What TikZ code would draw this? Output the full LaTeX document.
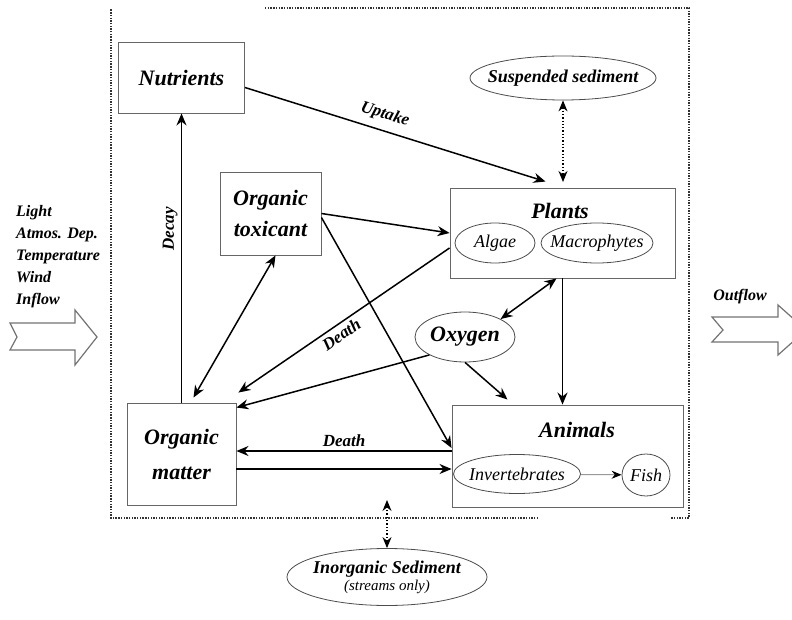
\documentclass[tikz,border=0pt]{standalone}
\usepackage{fontspec}
\setmainfont{Liberation Serif}
\usetikzlibrary{arrows.meta,shapes.geometric}
\begin{document}
\begin{tikzpicture}[x=1pt,y=-1pt,
  box/.style={draw=black!60, line width=0.9pt, rectangle, inner sep=0pt},
  oval/.style={draw=black!70, line width=0.8pt, ellipse, inner sep=0pt},
  big/.style={font=\fontsize{22}{31}\selectfont\bfseries\itshape},
  lab/.style={font=\fontsize{17}{20}\selectfont\bfseries\itshape},
  sub/.style={font=\fontsize{18}{20}\selectfont\itshape},
  arr/.style={line width=1.5pt, -{Stealth[length=12pt,width=10pt]}},
  rarr/.style={line width=1.5pt, {Stealth[length=12pt,width=10pt]}-},
  darr/.style={line width=1.5pt, {Stealth[length=12pt,width=10pt]}-{Stealth[length=12pt,width=10pt]}},
  dotarr/.style={line width=1.3pt, dotted, {Stealth[length=11pt,width=9pt]}-{Stealth[length=11pt,width=9pt]}},
  bound/.style={line width=1.8pt, dash pattern=on 1.4pt off 1.3pt, black!80},
  flow/.style={draw=black!55, line width=1.2pt, fill=white, line join=miter},
]
\useasboundingbox (0,0) rectangle (792,620);

% boundary
\draw[bound] (265,8) -- (689,8) -- (689,518) -- (671,518);
\draw[bound] (538,518) -- (111,518) -- (111,9);

% boxes
\node[box, big, minimum width=126pt, minimum height=71pt] (nut) at (181.5,77.5) {Nutrients};
\node[box, big, align=center, minimum width=101pt, minimum height=83pt] (tox) at (270.5,213.5) {Organic\\toxicant};
\node[box, big, align=center, minimum width=109pt, minimum height=102pt, font=\fontsize{22}{35}\selectfont\bfseries\itshape] (om) at (181.5,454) {Organic\\matter};
\node[box, minimum width=225pt, minimum height=90pt] (plants) at (562.5,233) {};
\node[big] (plantslbl) at (560,211) {Plants};
\node[oval, sub, minimum width=80pt, minimum height=40pt] (algae) at (495,243) {Algae};
\node[oval, sub, inner xsep=-10pt, minimum width=112pt, minimum height=40pt] (macro) at (597,243) {Macrophytes};
\node[box, minimum width=231pt, minimum height=102pt] (animals) at (567.5,456) {};
\node[big] (animalslbl) at (577,430) {Animals};
\node[oval, sub, inner xsep=-9pt, minimum width=127pt, minimum height=39pt] (inv) at (517,474) {Invertebrates};
\node[oval, sub, minimum width=48pt, minimum height=42pt] (fish) at (646,475) {Fish};
\node[oval, big, inner xsep=-5pt, minimum width=100pt, minimum height=50pt] (oxy) at (465,337) {Oxygen};
\node[oval, lab, font=\fontsize{18}{20}\selectfont\bfseries\itshape, inner xsep=-12pt, minimum width=186pt, minimum height=44pt] (susp) at (563,78) {Suspended sediment};
\node[oval, align=center, inner xsep=-10pt, inner ysep=-5pt, minimum width=200pt, minimum height=57pt] (inorg) at (387,577)
  {{\fontsize{18}{20}\selectfont\bfseries\itshape Inorganic Sediment}\\[2pt]{\fontsize{15}{17}\selectfont\itshape (streams only)}};

% connectors
\draw[arr] ([yshift=-10pt]nut.east) -- node[lab, sloped, above, pos=0.45, yshift=4pt]{Uptake} ([xshift=-17pt,yshift=6pt]plants.north);
\draw[arr] (om.north) -- node[lab, sloped, above, pos=0.6]{Decay} (nut.south);
\draw[darr] ([xshift=5pt]tox.south) -- ([xshift=12pt,yshift=5pt]om.north);
\draw[arr] (tox.east) -- (plants.west);
\draw[arr] ([yshift=-4pt]tox.east) -- ([yshift=8pt]animals.west);
\draw[rarr] ([yshift=10pt,xshift=2pt]om.north east) -- node[lab, sloped, below, pos=0.46]{Death} ([yshift=-15pt]plants.west);
\draw[arr] (oxy.south west) -- ([yshift=-5pt]om.north east);
\draw[arr] (oxy.south) -- ([xshift=-60pt,yshift=5pt]animals.north);
\draw[darr] ([xshift=-6pt]plants.south) -- (oxy.north east);
\draw[arr] (plants.south) -- (plants.south |- animals.north);
\coordinate (d1) at ([yshift=5pt]animals.west);
\draw[arr] (d1) -- node[lab, above]{Death} (om.east |- d1);
\coordinate (d2) at ([yshift=-13pt]animals.west);
\draw[arr] (om.east |- d2) -- (d2);
\draw[line width=1pt, black!40, -{Stealth[length=10pt,width=8pt,black]}] (inv) -- (fish);
\coordinate (sp) at (563,182);
\draw[dotarr] (susp.south) -- (sp);
\coordinate (ib) at (387,500);
\draw[dotarr] (inorg.north) -- (ib);

% inflow / outflow
\node[lab, font=\fontsize{16}{22}\selectfont\bfseries\itshape, align=left, anchor=west, inner sep=0pt] (inflowtxt) at (16,257)
  {Light\\Atmos. Dep.\\Temperature\\Wind\\Inflow};
\draw[flow] (10,323) -- (75,323) -- (75,310) -- (97,337) -- (75,365) -- (75,350) -- (10,350) -- (17,337) -- cycle;
\node[lab, font=\fontsize{16}{20}\selectfont\bfseries\itshape] (outflowtxt) at (740,297) {Outflow};
\begin{scope}
\clip (0,0) rectangle (792,620);
\draw[flow] (712,317) -- (778,317) -- (778,305) -- (806,330) -- (778,355) -- (778,342) -- (712,342) -- (723,330) -- cycle;
\end{scope}
\end{tikzpicture}
\end{document}
